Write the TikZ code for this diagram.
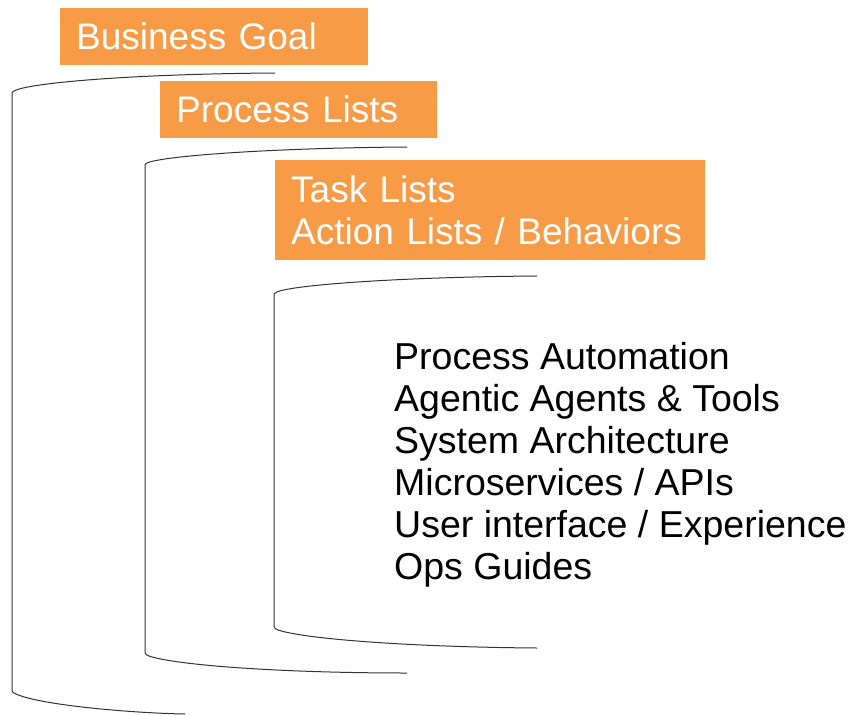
\documentclass[tikz,border=0pt]{standalone}
\usepackage{fontspec}
\setmainfont{Liberation Sans}
\definecolor{labelorange}{RGB}{248,155,70}

\begin{document}
\begin{tikzpicture}[x=1pt, y=-1pt,
    levelbox/.style={fill=labelorange, text=white, anchor=north west, inner xsep=16pt, inner ysep=0pt, align=left, font=\fontsize{37}{42}\selectfont},
    levelline/.style={black!80, line width=1pt}]
    \useasboundingbox (0,0) rectangle (854,715);

    % level labels
    \node[levelbox, text width=276pt, minimum height=57pt] (goal) at (60,8) {Business Goal};
    \node[levelbox, text width=245pt, minimum height=57pt] (process) at (160,81) {Process Lists};
    \node[levelbox, text width=398pt, minimum height=100pt] (task) at (275,160) {Task Lists\\Action Lists / Behaviors};

    % brackets
    \draw[levelline] (275,73) .. controls (130,74) and (28,83) .. (14,91) .. controls (12,92) .. (12,97) -- (12,688) .. controls (12,692) .. (16,694) .. controls (40,705) and (130,713) .. (185,714);
    \draw[levelline] (407,147) .. controls (270,148) and (162,156) .. (147,163) .. controls (145,164) .. (145,169) -- (145,650) .. controls (145,654) .. (149,656) .. controls (175,665) and (280,673) .. (407,673);
    \draw[levelline] (537,276) .. controls (400,277) and (292,285) .. (277,292) .. controls (274,293) .. (274,298) -- (274,624) .. controls (274,628) .. (278,630) .. controls (305,639) and (410,647) .. (537,648);

    % artefacts
    \node[anchor=west, inner sep=0pt, align=left, font=\fontsize{37.5}{42}\selectfont] (items) at (394,465)
        {Process Automation\\Agentic Agents \& Tools\\System Architecture\\Microservices / APIs\\User interface / Experience\\Ops Guides};
\end{tikzpicture}
\end{document}
